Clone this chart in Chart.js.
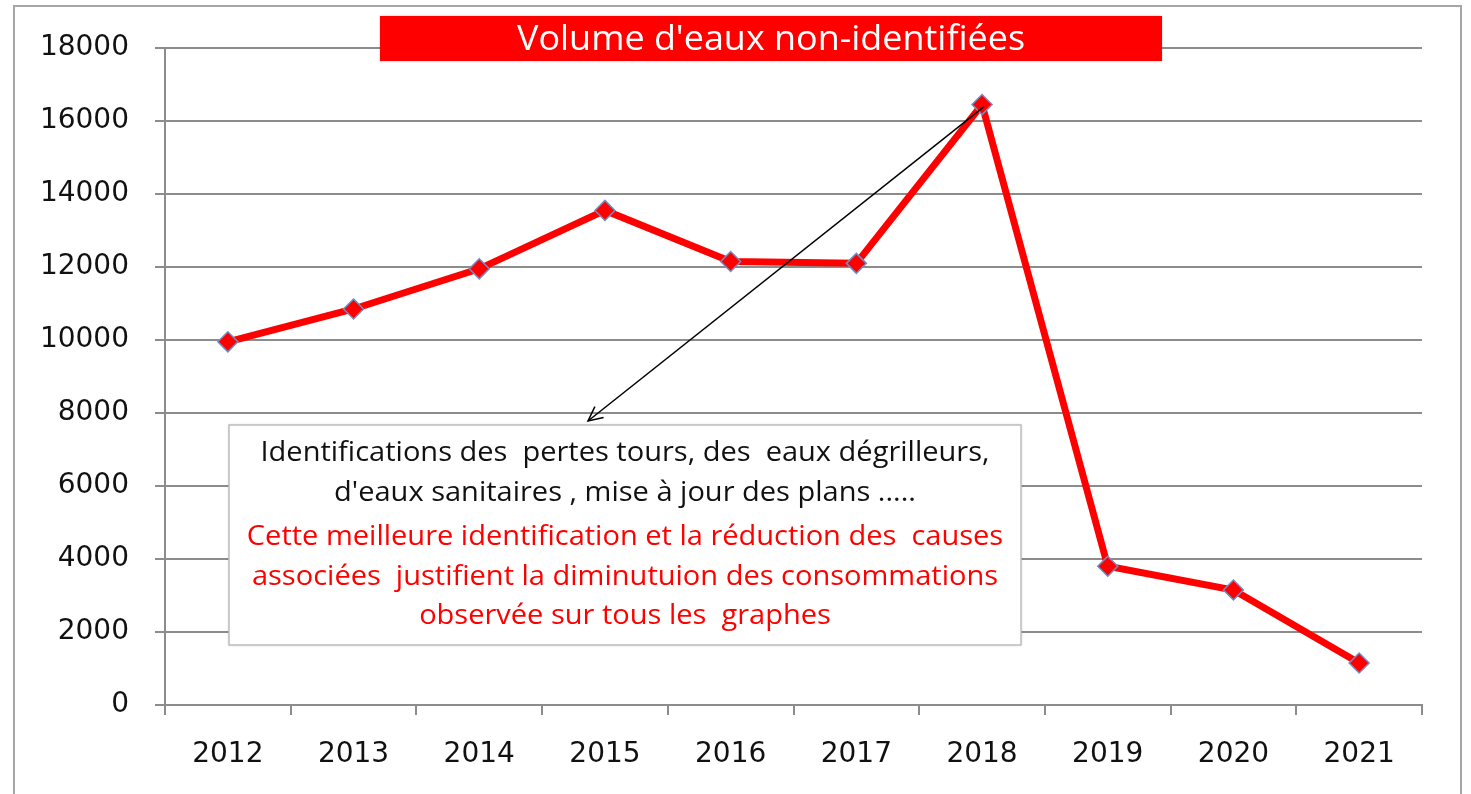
<!DOCTYPE html>
<html>
<head>
<meta charset="utf-8">
<script src="https://cdn.jsdelivr.net/npm/chart.js@4.4.1/dist/chart.umd.min.js"></script>
<style>
  html, body { margin: 0; padding: 0; background: #fff; overflow: hidden; }
  #frame { position: absolute; left: 13px; top: 5px; width: 1449px; height: 820px; border: 2px solid #a6a6a6; box-sizing: border-box; }
  #wrap { position: absolute; left: 0; top: 0; width: 1471px; height: 794px; }
</style>
</head>
<body>
<div id="frame"></div>
<div id="wrap"><canvas id="chart"></canvas></div>
<script>
const YEARS = ['2012', '2013', '2014', '2015', '2016', '2017', '2018', '2019', '2020', '2021'];
const VOLUMES = [9950, 10850, 11950, 13550, 12150, 12100, 16450, 3800, 3150, 1150];
const Y_MIN = 0;
const Y_MAX = 18000;
const Y_STEP = 2000;
const TITLE = "Volume d'eaux non-identifiées";
const NOTE_BLACK = [
  'Identifications des  pertes tours, des  eaux dégrilleurs,',
  "d'eaux sanitaires , mise à jour des plans .....",
];
const NOTE_RED = [
  'Cette meilleure identification et la réduction des  causes',
  'associées  justifient la diminutuion des consommations',
  'observée sur tous les  graphes',
];

const GRID = '#8c8c8c';
const FONT = "'DejaVu Sans', sans-serif";

// title box, annotation box and arrow drawn over the chart
const decorations = {
  id: 'decorations',
  afterDraw(chart) {
    const ctx = chart.ctx;
    ctx.save();

    // title
    ctx.fillStyle = '#ff0000';
    ctx.shadowColor = 'rgba(0,0,0,0.25)';
    ctx.shadowBlur = 2;
    ctx.fillRect(380, 16, 782, 45);
    ctx.shadowBlur = 0;
    ctx.font = "34px 'Open Sans', sans-serif";
    ctx.fillStyle = '#fff';
    ctx.textAlign = 'center';
    ctx.textBaseline = 'middle';
    const tw = ctx.measureText(TITLE).width;
    ctx.save();
    ctx.translate(771, 40);
    ctx.scale(508 / tw, 1);
    ctx.fillText(TITLE, 0, 0);
    ctx.restore();

    // arrow from the 2018 point to the note
    const p = chart.getDatasetMeta(0).data[6];
    const ex = 588, ey = 421;
    ctx.strokeStyle = '#000';
    ctx.lineWidth = 1.5;
    ctx.beginPath();
    ctx.moveTo(p.x + 2, p.y + 2);
    ctx.lineTo(ex, ey);
    ctx.stroke();
    const a = Math.atan2(ey - p.y, ex - p.x);
    ctx.beginPath();
    ctx.moveTo(ex - 16 * Math.cos(a - 0.45), ey - 16 * Math.sin(a - 0.45));
    ctx.lineTo(ex, ey);
    ctx.lineTo(ex - 16 * Math.cos(a + 0.45), ey - 16 * Math.sin(a + 0.45));
    ctx.stroke();

    // note box
    ctx.fillStyle = '#fff';
    ctx.shadowColor = 'rgba(0,0,0,0.2)';
    ctx.shadowBlur = 3;
    ctx.fillRect(229, 425, 792, 220);
    ctx.shadowBlur = 0;
    ctx.strokeStyle = '#bdbdbd';
    ctx.lineWidth = 1.5;
    ctx.strokeRect(229, 425, 792, 220);

    ctx.font = "28px 'Open Sans', sans-serif";
    const sx = 729 / ctx.measureText(NOTE_BLACK[0]).width;
    const lines = NOTE_BLACK.map(t => [t, '#111']).concat(NOTE_RED.map(t => [t, '#ff0000']));
    const ys = [453, 493, 537, 577, 616];
    lines.forEach(([t, c], i) => {
      ctx.fillStyle = c;
      ctx.save();
      ctx.translate(625, ys[i]);
      ctx.scale(sx, 1);
      ctx.fillText(t, 0, 0);
      ctx.restore();
    });
    ctx.restore();
  }
};

new Chart(document.getElementById('chart'), {
  type: 'line',
  data: {
    labels: YEARS,
    datasets: [{
      data: VOLUMES,
      borderColor: '#ff0000',
      borderWidth: 7,
      tension: 0,
      pointStyle: 'rectRot',
      pointRadius: 10,
      pointBackgroundColor: '#ff0000',
      pointBorderColor: '#6f8fc4',
      pointBorderWidth: 1.5,
    }],
  },
  options: {
    responsive: true,
    maintainAspectRatio: false,
    animation: false,
    layout: { padding: { top: 48, right: 49, left: 0, bottom: 0 } },
    plugins: { legend: { display: false }, tooltip: { enabled: false } },
    scales: {
      x: {
        offset: true,
        grid: { offset: true, drawOnChartArea: false, drawTicks: true, tickLength: 10, color: GRID, lineWidth: 2 },
        border: { color: GRID, width: 2 },
        ticks: { color: '#111', font: { family: FONT, size: 28 }, padding: 23, maxRotation: 0 },
        afterFit(s) { s.height = 89; },
      },
      y: {
        min: Y_MIN,
        max: Y_MAX,
        grid: { color: GRID, lineWidth: 2, tickLength: 10 },
        border: { color: GRID, width: 2 },
        ticks: { stepSize: Y_STEP, color: '#111', font: { family: FONT, size: 28 }, padding: 26, callback: v => String(v) },
        afterFit(s) { s.width = 165; },
      },
    },
  },
  plugins: [decorations],
});
</script>
</body>
</html>
